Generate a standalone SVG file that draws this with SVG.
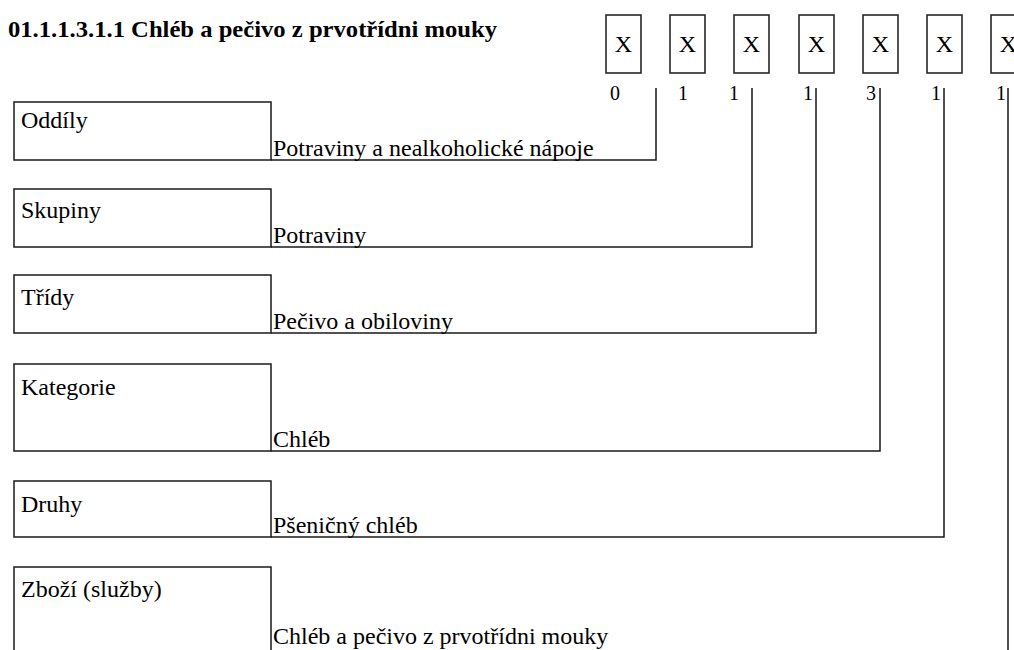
<svg xmlns="http://www.w3.org/2000/svg" width="1014" height="650" viewBox="0 0 1014 650">
<style>
  text { font-family: 'Liberation Serif', 'Times New Roman', Times, 'DejaVu Serif', serif; fill: #000; }
  .t { font-size: 24px; }
  .title { font-size: 24px; font-weight: bold; }
  .dig { font-size: 20px; }
  .box { fill: #fff; stroke: #1a1a1a; stroke-width: 1.5; }
  .conn { fill: none; stroke: #1a1a1a; stroke-width: 1.5; }
</style>
<rect width="1014" height="650" fill="#fff"/>
<text id="title" class="title" x="8" y="36.5" textLength="489" lengthAdjust="spacingAndGlyphs">01.1.1.3.1.1 Chléb a pečivo z prvotřídni mouky</text>

<g id="code-digits">
  <g id="cb1"><rect class="box" x="606" y="15" width="35" height="58"/><text class="t" x="623.5" y="51.5" text-anchor="middle">X</text></g>
  <g id="cb2"><rect class="box" x="670" y="15" width="35" height="58"/><text class="t" x="687.5" y="51.5" text-anchor="middle">X</text></g>
  <g id="cb3"><rect class="box" x="734" y="15" width="35" height="58"/><text class="t" x="751.5" y="51.5" text-anchor="middle">X</text></g>
  <g id="cb4"><rect class="box" x="799" y="15" width="35" height="58"/><text class="t" x="816.5" y="51.5" text-anchor="middle">X</text></g>
  <g id="cb5"><rect class="box" x="863" y="15" width="35" height="58"/><text class="t" x="880.5" y="51.5" text-anchor="middle">X</text></g>
  <g id="cb6"><rect class="box" x="927" y="15" width="35" height="58"/><text class="t" x="944.5" y="51.5" text-anchor="middle">X</text></g>
  <g id="cb7"><rect class="box" x="991" y="15" width="35" height="58"/><text class="t" x="1008.5" y="51.5" text-anchor="middle">X</text></g>
  <text class="dig" x="610" y="99.5">0</text>
  <text class="dig" x="678" y="99.5">1</text>
  <text class="dig" x="729" y="99.5">1</text>
  <text class="dig" x="803" y="99.5">1</text>
  <text class="dig" x="866" y="99.5">3</text>
  <text class="dig" x="931" y="99.5">1</text>
  <text class="dig" x="996" y="99.5">1</text>
</g>

<g id="connectors">
  <path class="conn" d="M271 160 H656 V88"/>
  <path class="conn" d="M271 247 H752 V88"/>
  <path class="conn" d="M271 333 H816 V88"/>
  <path class="conn" d="M271 451 H880 V88"/>
  <path class="conn" d="M271 537 H944 V88"/>
  <path class="conn" d="M271 656 H1008 V88"/>
</g>

<g id="oddily">
  <rect class="box" x="14" y="102" width="257" height="58"/>
  <text class="t" x="21" y="128">Oddíly</text>
  <text class="t" x="273" y="156">Potraviny a nealkoholické nápoje</text>
</g>
<g id="skupiny">
  <rect class="box" x="14" y="189" width="257" height="58"/>
  <text class="t" x="21" y="218">Skupiny</text>
  <text class="t" x="273" y="243">Potraviny</text>
</g>
<g id="tridy">
  <rect class="box" x="14" y="275" width="257" height="58"/>
  <text class="t" x="21" y="305">Třídy</text>
  <text class="t" x="273" y="329">Pečivo a obiloviny</text>
</g>
<g id="kategorie">
  <rect class="box" x="14" y="364" width="257" height="87"/>
  <text class="t" x="21" y="395">Kategorie</text>
  <text class="t" x="273" y="447">Chléb</text>
</g>
<g id="druhy">
  <rect class="box" x="14" y="481" width="257" height="56"/>
  <text class="t" x="21" y="512">Druhy</text>
  <text class="t" x="273" y="533">Pšeničný chléb</text>
</g>
<g id="zbozi">
  <rect class="box" x="14" y="567" width="257" height="89"/>
  <text class="t" x="21" y="597">Zboží (služby)</text>
  <text class="t" x="273" y="644">Chléb a pečivo z prvotřídni mouky</text>
</g>
</svg>
